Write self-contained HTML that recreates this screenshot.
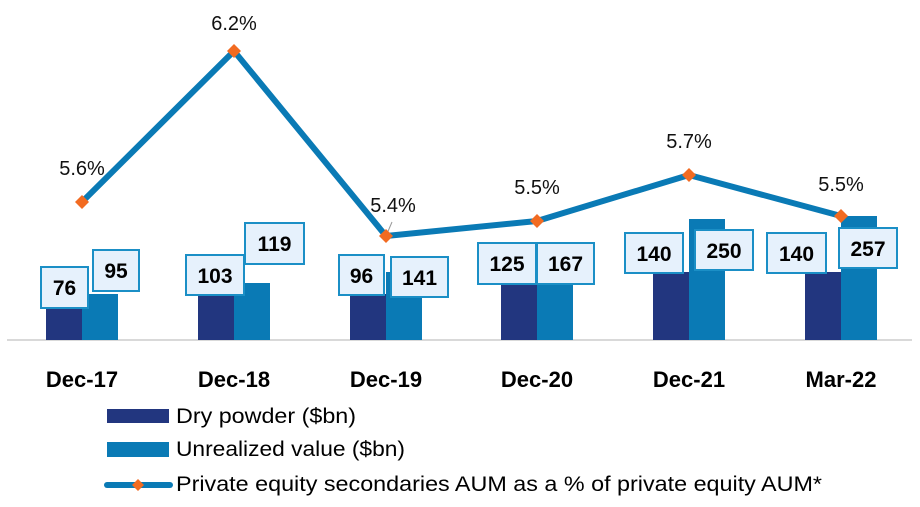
<!DOCTYPE html>
<html><head><meta charset="utf-8"><style>
html,body{margin:0;padding:0;background:#fff;}
svg{display:block;font-family:"Liberation Sans",sans-serif;}
.lb{font-weight:bold;font-size:21px;text-anchor:middle;fill:#000;}
.pc{font-size:20px;text-anchor:middle;fill:#111;}
.ax{font-weight:bold;font-size:22px;text-anchor:middle;fill:#000;}
.lg{font-size:21px;fill:#000;}
</style></head><body>
<svg width="920" height="507" viewBox="0 0 920 507" xmlns="http://www.w3.org/2000/svg">
<line x1="7" y1="340" x2="912" y2="340" stroke="#d9d9d9" stroke-width="2"/>
<g fill="#22367f">
<rect x="46" y="303" width="36" height="37"/>
<rect x="198" y="290" width="36" height="50"/>
<rect x="350" y="294" width="36" height="46"/>
<rect x="501" y="280" width="36" height="60"/>
<rect x="653" y="272" width="36" height="68"/>
<rect x="805" y="272" width="36" height="68"/>
</g>
<g fill="#0a7ab5">
<rect x="82" y="294" width="36" height="46"/>
<rect x="234" y="283" width="36" height="57"/>
<rect x="386" y="272" width="36" height="68"/>
<rect x="537" y="259" width="36" height="81"/>
<rect x="689" y="219" width="36" height="121"/>
<rect x="841" y="216" width="36" height="124"/>
</g>
<polyline points="82,202 234,51 386,236 537,221 689,175 841,216" fill="none" stroke="#0a7ab5" stroke-width="6" stroke-linejoin="round"/>
<line x1="386" y1="236" x2="392" y2="222" stroke="#999" stroke-width="1"/>
<g fill="#f26b21">
<path d="M82,195 l7,7 l-7,7 l-7,-7z"/>
<path d="M234,44 l7,7 l-7,7 l-7,-7z"/>
<path d="M386,229 l7,7 l-7,7 l-7,-7z"/>
<path d="M537,214 l7,7 l-7,7 l-7,-7z"/>
<path d="M689,168 l7,7 l-7,7 l-7,-7z"/>
<path d="M841,209 l7,7 l-7,7 l-7,-7z"/>
</g>
<text x="82" y="175" class="pc">5.6%</text>
<text x="234" y="30" class="pc">6.2%</text>
<text x="393" y="212" class="pc">5.4%</text>
<text x="537" y="194" class="pc">5.5%</text>
<text x="689" y="148" class="pc">5.7%</text>
<text x="841" y="191" class="pc">5.5%</text>
<g fill="#e6f1fc" stroke="#1b8fc6" stroke-width="2">
<rect x="41" y="267" width="47" height="41"/>
<rect x="93" y="250" width="46" height="41"/>
<rect x="186" y="255" width="58" height="40"/>
<rect x="245" y="223" width="59" height="41"/>
<rect x="339" y="255" width="45" height="40"/>
<rect x="391" y="257" width="57" height="40"/>
<rect x="478" y="243" width="58" height="41"/>
<rect x="537" y="243" width="57" height="41"/>
<rect x="625" y="233" width="58" height="40"/>
<rect x="695" y="230" width="58" height="40"/>
<rect x="767" y="233" width="59" height="40"/>
<rect x="839" y="228" width="58" height="40"/>
</g>
<text x="64.5" y="295" class="lb">76</text>
<text x="116" y="278" class="lb">95</text>
<text x="215" y="283" class="lb">103</text>
<text x="274.5" y="251" class="lb">119</text>
<text x="361.5" y="283" class="lb">96</text>
<text x="419.5" y="285" class="lb">141</text>
<text x="507" y="271" class="lb">125</text>
<text x="565.5" y="271" class="lb">167</text>
<text x="654" y="261" class="lb">140</text>
<text x="724" y="258" class="lb">250</text>
<text x="796.5" y="261" class="lb">140</text>
<text x="868" y="256" class="lb">257</text>
<text x="82" y="387" class="ax">Dec-17</text>
<text x="234" y="387" class="ax">Dec-18</text>
<text x="386" y="387" class="ax">Dec-19</text>
<text x="537" y="387" class="ax">Dec-20</text>
<text x="689" y="387" class="ax">Dec-21</text>
<text x="841" y="387" class="ax">Mar-22</text>
<rect x="107" y="409" width="62" height="14" fill="#22367f"/>
<rect x="107" y="442" width="62" height="15" fill="#0a7ab5"/>
<line x1="107" y1="485" x2="170" y2="485" stroke="#0a7ab5" stroke-width="6" stroke-linecap="round"/>
<path d="M138,479 l6,6 l-6,6 l-6,-6z" fill="#f26b21"/>
<text x="176" y="423" class="lg" textLength="180" lengthAdjust="spacingAndGlyphs">Dry powder ($bn)</text>
<text x="176" y="456" class="lg" textLength="229" lengthAdjust="spacingAndGlyphs">Unrealized value ($bn)</text>
<text x="176" y="491" class="lg" textLength="646" lengthAdjust="spacingAndGlyphs">Private equity secondaries AUM as a % of private equity AUM*</text>
</svg>
</body></html>
